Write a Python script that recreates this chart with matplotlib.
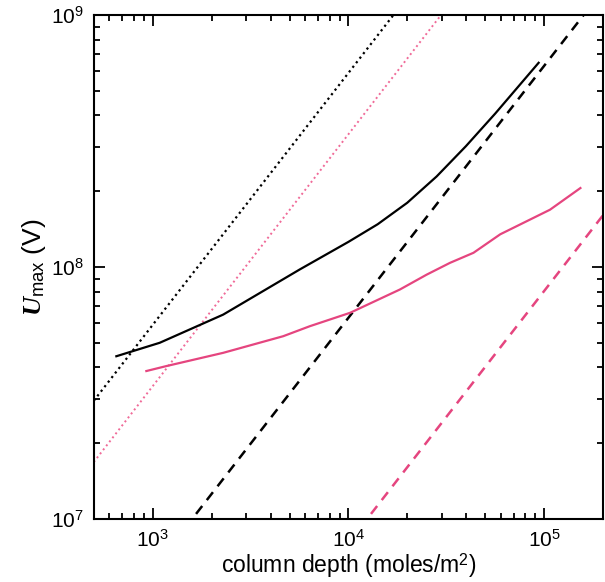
import numpy as np
import matplotlib.pyplot as plt

plt.rcParams['font.family'] = ['Liberation Sans', 'DejaVu Sans']
plt.rcParams['mathtext.fontset'] = 'custom'
plt.rcParams['mathtext.rm'] = 'Liberation Sans'
plt.rcParams['mathtext.it'] = 'Liberation Serif:bold:italic'
plt.rcParams['mathtext.bf'] = 'Liberation Sans:bold'

# ── data ──
black_x = [652, 1086, 2290, 5650, 10000, 14100, 19950, 28200, 39800, 56200, 93600]
black_y = [4.43e7, 5.01e7, 6.48e7, 9.8e7, 1.26e8, 1.48e8, 1.80e8, 2.29e8, 3.02e8, 4.07e8, 6.47e8]

pink_x = [928, 1175, 2290, 4640, 6350, 10200, 18300, 25100, 33000, 43500, 59600, 107000, 153000]
pink_y = [3.87e7, 4.05e7, 4.57e7, 5.32e7, 5.83e7, 6.59e7, 8.15e7, 9.34e7, 1.04e8, 1.14e8, 1.35e8, 1.69e8, 2.06e8]

# straight reference lines U = c * N (slope 1 on log-log)
ref_x = [500, 2e5]
c_black_dot  = 5.9e4
c_pink_dot   = 3.37e4
c_black_dash = 6.3e3
c_pink_dash  = 8.05e2

pink = "#e5457f"
pink_light = "#f06a98"

fig = plt.figure(figsize=(6.05, 5.82), dpi=100)
ax = fig.add_axes([0.155, 0.108, 0.842, 0.866])

rx = np.array(ref_x)
ax.plot(rx, c_black_dot * rx, color="black", linestyle=(0, (1, 1.6)), linewidth=1.6)
ax.plot(rx, c_pink_dot * rx, color=pink_light, linestyle=(0, (1, 1.6)), linewidth=1.4)
ax.plot(rx, c_black_dash * rx, color="black", linestyle=(0, (4, 3)), linewidth=1.8)
ax.plot(rx, c_pink_dash * rx, color=pink, linestyle=(0, (4, 3)), linewidth=1.8)

ax.plot(black_x, black_y, color="black", linewidth=1.6)
ax.plot(pink_x, pink_y, color=pink, linewidth=1.6)

ax.set_xscale("log")
ax.set_yscale("log")
ax.set_xlim(500, 2e5)
ax.set_ylim(1e7, 1e9)

ax.tick_params(which="both", direction="in", top=True, right=True,
               labelsize=15, width=1.3, pad=7)
ax.tick_params(which="major", length=8)
ax.tick_params(which="minor", length=4)
for s in ax.spines.values():
    s.set_linewidth(1.5)

ax.set_xlabel("column depth (moles/m$^2$)", fontsize=16.5, labelpad=0)
ax.set_ylabel(r"$U_{\mathrm{max}}$ (V)", fontsize=19, labelpad=2)

fig.savefig("out.png", dpi=100)
